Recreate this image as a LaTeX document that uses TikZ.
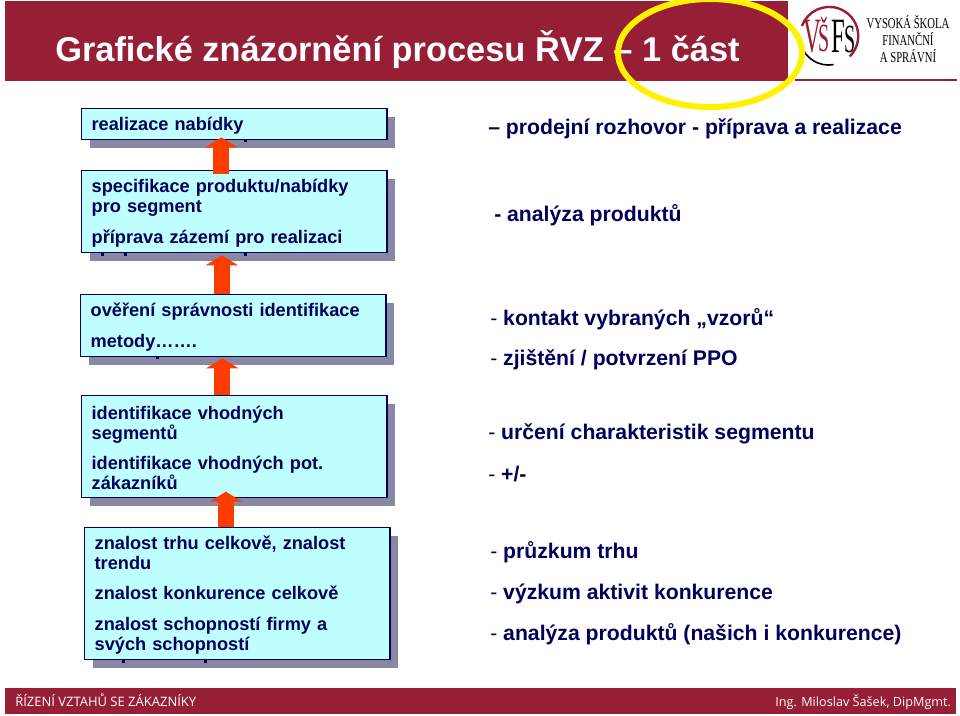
\documentclass[tikz,border=0pt]{standalone}
\usepackage{fontspec}
\setmainfont{Liberation Sans}
\newfontfamily\footfont{Open Sans}
\newfontfamily\logofont{Liberation Serif}
\usetikzlibrary{arrows.meta,shadows}
\definecolor{vsred}{RGB}{150,31,53}
\definecolor{navytext}{RGB}{0,0,90}
\definecolor{boxfill}{RGB}{192,255,255}
\definecolor{boxshade}{RGB}{136,136,164}
\definecolor{uporange}{RGB}{255,60,0}
\newcommand{\lightdash}{{\mdseries -} }
\tikzset{
  stepbox/.style={draw=navytext,line width=1pt,fill=boxfill,anchor=north west,
    minimum width=229pt,inner sep=0pt,text width=214pt,align=left,text=navytext,
    font=\fontsize{13.65}{15}\selectfont\bfseries,
    execute at begin node=\rule{0pt}{12pt},
    drop shadow={shadow xshift=6pt,shadow yshift=-6pt,fill=boxshade,opacity=1}},
  sidetext/.style={anchor=base west,inner sep=0pt,text=navytext,
    font=\fontsize{15.9}{18}\selectfont\bfseries},
  uparrow/.style={uporange,line width=12pt,
    -{Triangle[width=24pt,length=7.5pt,fill=uporange]}},
  band/.style={fill=vsred,draw=none,anchor=north west,inner sep=0pt},
  foottext/.style={anchor=base west,inner sep=0pt,text=white,
    font=\footfont\fontsize{9.75}{12}\selectfont},
  logotext/.style={inner sep=0pt,font=\logofont\fontsize{11.3}{13}\selectfont,align=center,
    xscale=.71,transform shape},
  logoletter/.style={inner sep=0pt,anchor=base,font=\logofont\fontsize{37}{37}\selectfont,
    xscale=.5,transform shape}
}
\begin{document}
\begin{tikzpicture}[x=0.75pt,y=-0.75pt]
  \useasboundingbox (0,0) rectangle (960,716);
  \fill[white] (0,0) rectangle (960,716);

  % header and footer
  \node[band,minimum width=587.25pt,minimum height=60pt] (head) at (5,1) {};
  \node[band,minimum width=713pt,minimum height=19.5pt] (foot) at (5,688) {};
  \node[anchor=base west,inner sep=0pt,text=white,font=\fontsize{25.8}{28}\selectfont\bfseries] (title) at (55,62) {Grafické znázornění procesu ŘVZ – 1 část};
  \node[foottext] (footl) at (15,706) {ŘÍZENÍ VZTAHŮ SE ZÁKAZNÍKY};
  \node[foottext,font=\footfont\fontsize{9.5}{12}\selectfont] (footr) at (775,706) {Ing. Miloslav Šašek, DipMgmt.};

  % logo
  \draw[vsred,line width=1.2pt] (795,80) -- (957,80);
  \draw[vsred,line width=1.8pt] (802,26) arc (160:-45:21.75pt);
  \draw[black,line width=1.2pt] (801,45) arc (198:280:21.75pt);
  \node[logoletter,text=vsred] (logov) at (812,53) {V};
  \node[logoletter,text=vsred,font=\logofont\fontsize{30}{30}\selectfont] (logos) at (824,52) {Š};
  \node[logoletter,text=black] (logof) at (838,53) {F};
  \node[logoletter,text=black,font=\logofont\fontsize{30}{30}\selectfont] (logoz) at (850,53) {S};
  \node[logotext] (school) at (908,39) {VYSOKÁ ŠKOLA\\FINANČNÍ\\A SPRÁVNÍ};

  % steps
  \node[stepbox,minimum height=23.25pt] (b1) at (81,108) {realizace nabídky};
  \node[stepbox,minimum height=61.5pt] (b2) at (81,170) {specifikace produktu/nabídky\\pro segment\\[8pt]příprava zázemí pro realizaci};
  \node[stepbox,minimum height=46.5pt] (b3) at (80,294) {ověření správnosti identifikace\\[8pt]metody…….};
  \node[stepbox,minimum height=76.5pt] (b4) at (81,395) {identifikace vhodných\\segmentů\\[8pt]identifikace vhodných pot.\\zákazníků};
  \node[stepbox,minimum height=99pt] (b5) at (84,527) {znalost trhu celkově, znalost\\trendu\\[8pt]znalost konkurence celkově\\[8pt]znalost schopností firmy a\\svých schopností};

  \foreach \from/\to/\dx/\up/\down in {b2/b1/-9.75/2.25/-3,b3/b2/-8.6/-1.5/0,b4/b3/-9/-0.75/0,b5/b4/-8.6/5/0}
    \draw[uparrow] ([xshift=\dx pt,yshift=\down pt]\from.north) -- ([xshift=\dx pt,yshift=\up pt]\from.north |- \to.south);

  % bits of text showing under the boxes
  \foreach \mx/\my in {245/141,102/255,125/255,245/255,157/358,123/661,205/661}
    \fill[navytext] (\mx-1.5,\my-1.5) rectangle (\mx+1.5,\my+1.5);

  % right column
  \node[sidetext] (r1) at (488,135) {– prodejní rozhovor - příprava a realizace};
  \node[sidetext] (r2) at (494,222) {- analýza produktů};
  \node[sidetext] (r3) at (490,325.5) {\lightdash kontakt vybraných „vzorů“};
  \node[sidetext] (r4) at (490,366) {\lightdash zjištění / potvrzení PPO};
  \node[sidetext] (r5) at (488,439) {\lightdash určení charakteristik segmentu};
  \node[sidetext] (r6) at (488,481) {\lightdash +/-};
  \node[sidetext] (r7) at (490,558.5) {\lightdash průzkum trhu};
  \node[sidetext] (r8) at (490,599) {\lightdash výzkum aktivit konkurence};
  \node[sidetext] (r9) at (490,640) {\lightdash analýza produktů (našich i konkurence)};

  % highlight
  \draw[yellow,line width=4.5pt] (710,53) ellipse (92 and 54);
\end{tikzpicture}
\end{document}
